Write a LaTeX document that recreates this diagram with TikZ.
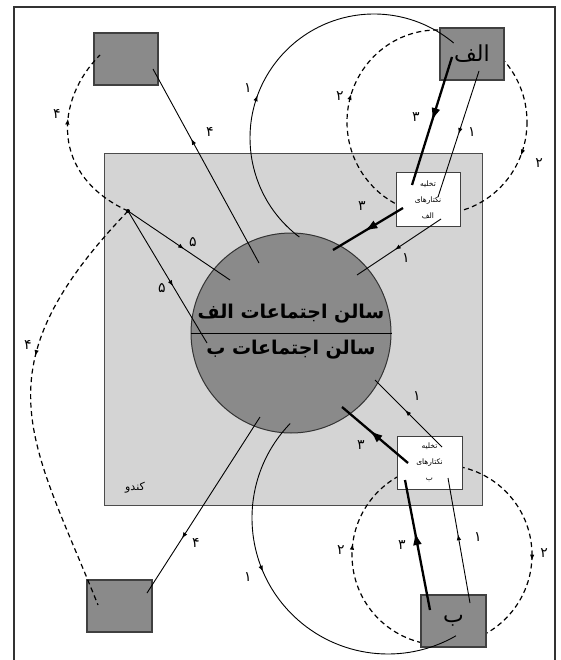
\documentclass[tikz,border=0pt]{standalone}
\usepackage{fontspec}
\newfontfamily\arabicfont[Script=Arabic]{DejaVu Sans}
\TeXXeTstate=1
\usetikzlibrary{arrows.meta,decorations.markings}

\definecolor{hivegray}{gray}{0.83}
\definecolor{hallgray}{gray}{0.54}
\definecolor{framegray}{gray}{0.2}

\tikzset{
  sq/.style={draw=black!75,line width=1.2pt,fill=hallgray,inner sep=0pt},
  whitebox/.style={draw=black!75,line width=1pt,fill=white,inner sep=0pt,align=center,
    font=\arabicfont\fontsize{7.5}{16}\selectfont},
  flow/.style={line width=0.9pt},
  heavy/.style={line width=2.3pt},
  dashflow/.style={line width=1.2pt,dash pattern=on 5pt off 3.5pt},
  midarrow/.style={postaction={decorate,decoration={markings,
    mark=at position #1 with {\arrow{Latex[length=6pt,width=4.5pt]}}}}},
  bigarrow/.style={postaction={decorate,decoration={markings,
    mark=at position #1 with {\arrow{Latex[length=13pt,width=9pt]}}}}},
  num/.style={font=\arabicfont\fontsize{14}{14}\selectfont,inner sep=0pt}
}

\begin{document}
\begin{tikzpicture}[x=1pt,y=1pt]
    \useasboundingbox (0,0) rectangle (560,-660);
    \draw[framegray,line width=1.5pt] (14,-662) -- (14,-7) -- (555,-7) -- (555,-662);

    % the hive and the two halls
    \node[draw=black!70,line width=1pt,fill=hivegray,minimum width=378pt,minimum height=351pt] (kandoo) at (293,-329.5) {};
    \node[font=\arabicfont\fontsize{11}{11}\selectfont] (kandooname) at (135,-488) {\beginR کندو\endR};
    \node[draw=black!80,line width=1pt,fill=hallgray,circle,minimum size=200pt,inner sep=0pt] (hall) at (291,-333) {};
    \draw[line width=0.8pt] (hall.west) -- (hall.east);
    \node[font=\arabicfont\bfseries\fontsize{19}{19}\selectfont] (hallA) at (291,-314) {\beginR سالن اجتماعات الف\endR};
    \node[font=\arabicfont\bfseries\fontsize{19}{19}\selectfont] (hallB) at (291,-350) {\beginR سالن اجتماعات ب\endR};

    % dashed loops 2
    \coordinate (loopA) at (437,-122);
    \coordinate (loopB) at (442,-555);
    \draw[dashflow,midarrow=0.06,midarrow=0.55] ([xshift=90pt]loopA) arc[start angle=0,end angle=-360,x radius=90,y radius=92];
    \draw[dashflow,midarrow=0.01,midarrow=0.52] ([xshift=90pt]loopB) arc[start angle=0,end angle=-360,x radius=90,y radius=90];

    % squares and unloading boxes
    \node[sq,minimum width=64pt,minimum height=52pt] (tl) at (126,-59) {};
    \node[sq,minimum width=65pt,minimum height=52pt] (bl) at (119.5,-606) {};
    \node[sq,minimum width=64pt,minimum height=52pt,font=\arabicfont\fontsize{22}{22}\selectfont] (alef) at (472,-54) {\beginR الف\endR};
    \node[sq,minimum width=65pt,minimum height=52pt,font=\arabicfont\fontsize{22}{22}\selectfont] (be) at (453.5,-621) {\beginR ب\endR};
    \node[whitebox,minimum width=64pt,minimum height=53pt] (unloadA) at (428,-199.5) {\beginR تخلیه\endR\\ \beginR نکتارهای\endR\\ \beginR الف\endR};
    \node[whitebox,minimum width=65pt,minimum height=53pt] (unloadB) at (429.5,-462.5) {\beginR تخلیه\endR\\ \beginR نکتارهای\endR\\ \beginR ب\endR};

    % end points
    \coordinate (a1s) at (479,-71);  \coordinate (a1e) at (438,-197);
    \coordinate (a3s) at (452,-57);  \coordinate (a3e) at (412,-185);
    \coordinate (b3s) at (403,-208); \coordinate (b3e) at (333,-250);
    \coordinate (b1s) at (441,-219); \coordinate (b1e) at (357,-275);
    \coordinate (c1s) at (470,-603); \coordinate (c1e) at (448,-478);
    \coordinate (c3s) at (430,-610); \coordinate (c3e) at (405,-480);
    \coordinate (d3s) at (408,-463); \coordinate (d3e) at (342,-407);
    \coordinate (d1s) at (442,-447); \coordinate (d1e) at (375,-380);
    \coordinate (e4s) at (259,-263); \coordinate (e4e) at (153,-69);
    \coordinate (f4s) at (260,-417); \coordinate (f4e) at (147,-593);
    \coordinate (tlin) at (100,-55); \coordinate (blin) at (98,-605);
    \coordinate (g5e) at (230,-280); \coordinate (h5e) at (207,-343);
    \coordinate (arcA) at (374,-138); \coordinate (arcB) at (388,-518);

    \draw[flow,midarrow=0.5] (a1s) -- (a1e);
    \draw[heavy,bigarrow=0.5] (a3s) -- (a3e);
    \draw[heavy,bigarrow=0.55] (b3s) -- (b3e);
    \draw[flow,midarrow=0.55] (b1s) -- (b1e);
    \draw[flow,midarrow=0.55] (c1s) -- (c1e);
    \draw[heavy,bigarrow=0.6] (c3s) -- (c3e);
    \draw[heavy,bigarrow=0.58] (d3s) -- (d3e);
    \draw[flow,midarrow=0.55] (d1s) -- (d1e);
    \draw[flow,midarrow=0.64] (e4s) -- (e4e);
    \draw[flow,midarrow=0.69] (f4s) -- (f4e);

    % big arcs 1
    \draw[flow,midarrow=0.4] ([shift={(233:124)}]arcA) arc[start angle=233,end angle=50,radius=124];
    \draw[flow,midarrow=0.41] ([shift={(136:136)}]arcB) arc[start angle=136,end angle=300,radius=136];

    % junction
    \fill (128,-211) circle (2pt) coordinate (j);
    \draw[dashflow,midarrow=0.62] (j) .. controls (50,-175) and (55,-100) .. (tlin);
    \draw[dashflow,midarrow=0.4] (j) .. controls (-24,-370) and (31,-438) .. (blin);
    \draw[flow,midarrow=0.55] (j) -- (g5e);
    \draw[flow,midarrow=0.57] (j) -- (h5e);

    % numbers
    \node[num] (na1) at (472,-132) {۱};
    \node[num] (na3) at (416,-117) {۳};
    \node[num] (nb3) at (362,-206) {۳};
    \node[num] (nb1) at (406,-258) {۱};
    \node[num] (nla) at (340,-96) {۲};
    \node[num] (nra) at (539,-163) {۲};
    \node[num] (narc) at (248,-88) {۱};
    \node[num] (nc1) at (478,-537) {۱};
    \node[num] (nc3) at (402,-545) {۳};
    \node[num] (nd3) at (361,-445) {۳};
    \node[num] (nd1) at (417,-396) {۱};
    \node[num] (nlb) at (341,-550) {۲};
    \node[num] (nrb) at (544,-553) {۲};
    \node[num] (narcb) at (248,-577) {۱};
    \node[num] (ne4) at (210,-132) {۴};
    \node[num] (nf4) at (196,-543) {۴};
    \node[num] (ntl) at (57,-114) {۴};
    \node[num] (nbl) at (28,-345) {۴};
    \node[num] (ng5) at (193,-242) {۵};
    \node[num] (nh5) at (162,-288) {۵};
\end{tikzpicture}
\end{document}
